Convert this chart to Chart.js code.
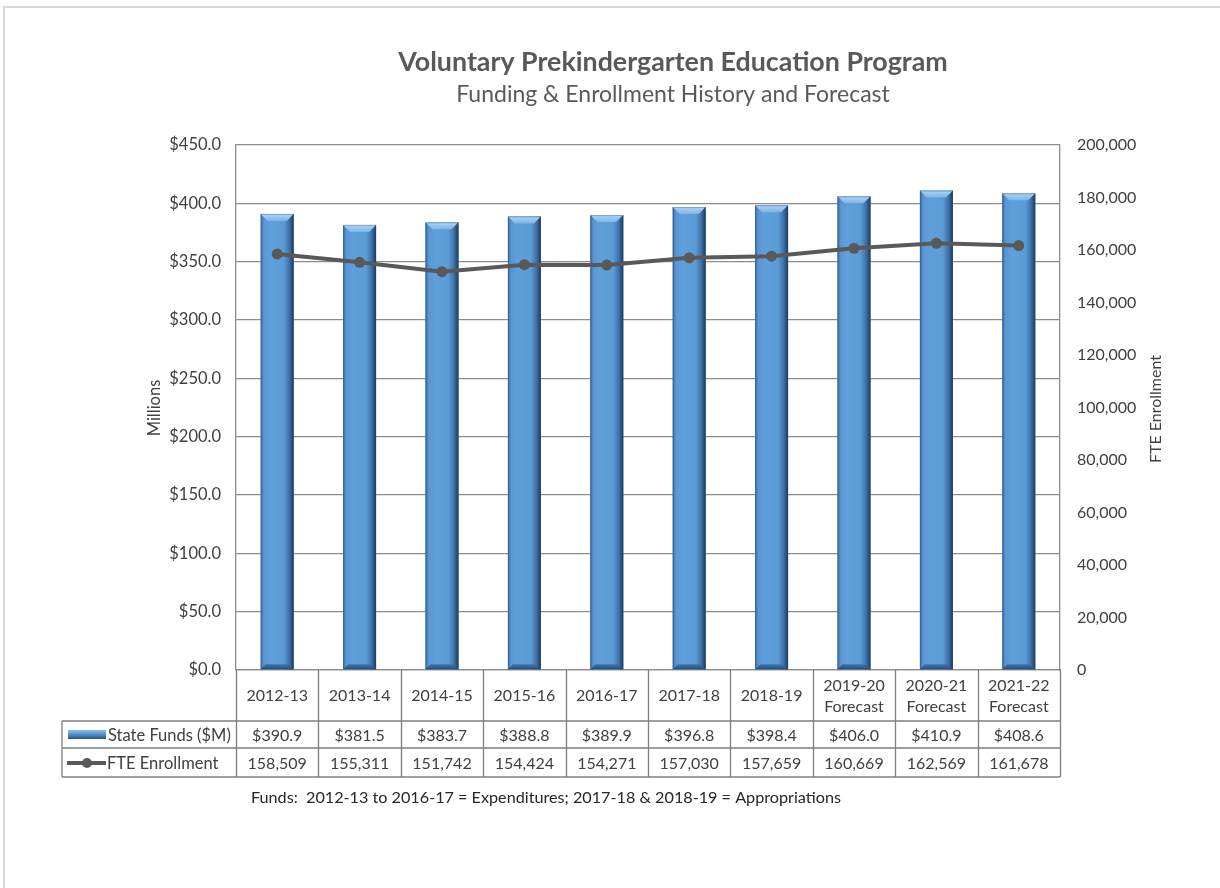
<!DOCTYPE html>
<html><head><meta charset="utf-8">
<script src="https://cdn.jsdelivr.net/npm/chart.js@4.4.1/dist/chart.umd.min.js"></script>
<style>html,body{margin:0;padding:0;background:#fff;overflow:hidden}#wrap{position:absolute;left:0;top:0;width:1220px;height:888px}</style>
</head><body><div id="wrap"><canvas id="c" width="1220" height="888"></canvas></div>
<script>
const chartTitle = 'Voluntary Prekindergarten Education Program';
const chartSubtitle = 'Funding & Enrollment History and Forecast';
const categories = ['2012-13','2013-14','2014-15','2015-16','2016-17','2017-18','2018-19',['2019-20','Forecast'],['2020-21','Forecast'],['2021-22','Forecast']];
const stateFunds = [390.9, 381.5, 383.7, 388.8, 389.9, 396.8, 398.4, 406.0, 410.9, 408.6];
const fteEnrollment = [158509, 155311, 151742, 154424, 154271, 157030, 157659, 160669, 162569, 161678];
const seriesNames = ['State Funds ($M)', 'FTE Enrollment'];
const leftAxisTitle = 'Millions';
const rightAxisTitle = 'FTE Enrollment';
const footnote = 'Funds:  2012-13 to 2016-17 = Expenditures; 2017-18 & 2018-19 = Appropriations';

const FONT = 'Lato, "Open Sans", sans-serif';
const GRID = '#8c8c8c';
const TXT = '#404040';

function fmtFunds(v){ return '$' + Number(v).toFixed(1); }
function fmtCount(v){ return Number(v).toLocaleString('en-US'); }

function drawBevelBar(ctx, l, top, w, h){
  const r = l + w;
  const g = ctx.createLinearGradient(l, 0, r, 0);
  g.addColorStop(0, '#3b6ea8');
  g.addColorStop(0.1, '#5a96d2');
  g.addColorStop(0.3, '#5fa0dc');
  g.addColorStop(0.7, '#5b9bd5');
  g.addColorStop(0.86, '#3f72aa');
  g.addColorStop(1, '#1d3b5e');
  ctx.fillStyle = g;
  ctx.fillRect(l, top, w, h);
  const b = Math.min(7, h/2);
  const gt = ctx.createLinearGradient(0, top, 0, top + b);
  gt.addColorStop(0, '#b0d4f5');
  gt.addColorStop(1, '#7db4e6');
  ctx.fillStyle = gt;
  ctx.beginPath();
  ctx.moveTo(l, top); ctx.lineTo(r, top); ctx.lineTo(r - b, top + b); ctx.lineTo(l + b, top + b); ctx.closePath();
  ctx.fill();
  const bb = Math.min(5, h/2);
  const gb = ctx.createLinearGradient(0, top + h - bb, 0, top + h);
  gb.addColorStop(0, '#3f72aa');
  gb.addColorStop(1, '#2a4f7a');
  ctx.fillStyle = gb;
  ctx.beginPath();
  ctx.moveTo(l + bb, top + h - bb); ctx.lineTo(r - bb, top + h - bb); ctx.lineTo(r, top + h); ctx.lineTo(l, top + h); ctx.closePath();
  ctx.fill();
  ctx.strokeStyle = 'rgba(40,70,110,0.35)';
  ctx.lineWidth = 1;
  ctx.strokeRect(l + 0.5, top + 0.5, w - 1, h - 1);
}

const decorPlugin = {
  id: 'decor',
  beforeDraw(chart){
    const ctx = chart.ctx;
    ctx.save();
    ctx.fillStyle = '#fff';
    ctx.fillRect(0, 0, chart.width, chart.height);
    ctx.strokeStyle = '#d9d9d9';
    ctx.lineWidth = 2;
    ctx.beginPath();
    ctx.moveTo(4, 888); ctx.lineTo(4, 7); ctx.lineTo(1220, 7);
    ctx.stroke();
    ctx.restore();
  },
  afterDatasetDraw(chart, args){
    if (args.index !== 0) return;
    const ctx = chart.ctx;
    ctx.save();
    args.meta.data.forEach(bar => {
      const p = bar.getProps(['x', 'y', 'base', 'width'], true);
      drawBevelBar(ctx, p.x - p.width/2, p.y, p.width, p.base - p.y);
    });
    ctx.restore();
  },
  afterDraw(chart){
    const ctx = chart.ctx;
    const ca = chart.chartArea;
    const xs = chart.scales.x;
    ctx.save();
    ctx.fillStyle = '#595959';
    ctx.textAlign = 'center';
    ctx.textBaseline = 'middle';
    ctx.font = 'bold 26.8px ' + FONT;
    ctx.fillText(chartTitle, 673, 62);
    ctx.font = '23px ' + FONT;
    ctx.fillText(chartSubtitle, 673, 95);
    ctx.fillStyle = TXT;
    ctx.font = '16.5px ' + FONT;
    ctx.save(); ctx.translate(155, 408); ctx.rotate(-Math.PI/2); ctx.fillText(leftAxisTitle, 0, 0); ctx.restore();
    ctx.font = '16px ' + FONT;
    ctx.save(); ctx.translate(1156, 409); ctx.rotate(-Math.PI/2); ctx.fillText(rightAxisTitle, 0, 0); ctx.restore();

    const n = categories.length;
    const step = xs.getPixelForValue(1) - xs.getPixelForValue(0);
    const y0 = ca.bottom, y1 = 721, y2 = 748, y3 = 777;
    const tl = 62;
    ctx.strokeStyle = '#7f7f7f';
    ctx.lineWidth = 1.3;
    ctx.beginPath();
    [y1, y2, y3].forEach(y => { ctx.moveTo(tl, y); ctx.lineTo(ca.right, y); });
    ctx.moveTo(tl, y1); ctx.lineTo(tl, y3);
    for (let i = 0; i <= n; i++){
      const bx = i < n ? xs.getPixelForValue(i) - step/2 : xs.getPixelForValue(n - 1) + step/2;
      ctx.moveTo(Math.round(bx) + 0.5, y0); ctx.lineTo(Math.round(bx) + 0.5, y3);
    }
    ctx.stroke();

    ctx.fillStyle = TXT;
    ctx.font = '16px ' + FONT;
    ctx.textAlign = 'center';
    ctx.textBaseline = 'middle';
    for (let i = 0; i < n; i++){
      const cx = xs.getPixelForValue(i);
      const lab = categories[i];
      if (Array.isArray(lab)){
        ctx.fillText(lab[0], cx, 686);
        ctx.fillText(lab[1], cx, 707);
      } else {
        ctx.fillText(lab, cx, 696);
      }
      ctx.fillText(fmtFunds(stateFunds[i]), cx, (y1 + y2)/2 + 1);
      ctx.fillText(fmtCount(fteEnrollment[i]), cx, (y2 + y3)/2 + 1);
    }
    ctx.textAlign = 'left';
    ctx.font = '16.5px ' + FONT;
    ctx.fillText(seriesNames[0], 108, (y1 + y2)/2 + 1);
    ctx.fillText(seriesNames[1], 107, (y2 + y3)/2 + 1);
    const gk = ctx.createLinearGradient(0, 730, 0, 739);
    gk.addColorStop(0, '#8fc0ec'); gk.addColorStop(0.4, '#5b9bd5'); gk.addColorStop(1, '#2c527f');
    ctx.fillStyle = gk;
    ctx.fillRect(68, 730, 38, 9);
    ctx.strokeStyle = '#595959';
    ctx.lineWidth = 4;
    ctx.beginPath(); ctx.moveTo(67, 763); ctx.lineTo(106, 763); ctx.stroke();
    ctx.fillStyle = '#595959';
    ctx.beginPath(); ctx.arc(87, 763, 5, 0, Math.PI*2); ctx.fill();

    ctx.fillStyle = '#262626';
    ctx.font = '16.2px ' + FONT;
    ctx.fillText(footnote, 251, 798);
    ctx.restore();
  }
};

new Chart(document.getElementById('c'), {
  data: {
    labels: categories,
    datasets: [
      { type: 'bar', label: seriesNames[0], data: stateFunds, yAxisID: 'y', backgroundColor: '#5b9bd5', borderWidth: 0, barPercentage: 0.4, categoryPercentage: 1, order: 2 },
      { type: 'line', label: seriesNames[1], data: fteEnrollment, yAxisID: 'y2', borderColor: '#595959', backgroundColor: '#595959', borderWidth: 4, pointRadius: 5.5, pointBackgroundColor: '#595959', pointBorderWidth: 0, tension: 0, order: 1 }
    ]
  },
  options: {
    responsive: false,
    animation: false,
    devicePixelRatio: 1,
    layout: { padding: { top: 145, bottom: 218, left: 0, right: 0 } },
    plugins: { legend: { display: false }, title: { display: false }, tooltip: { enabled: false } },
    scales: {
      x: {
        ticks: { display: false },
        grid: { display: false, drawTicks: false },
        border: { display: true, color: GRID, width: 1.3 },
        afterFit(s){ s.height = 0; }
      },
      y: {
        position: 'left', min: 0, max: 450,
        ticks: { stepSize: 50, padding: 15, color: TXT, font: { family: FONT, size: 16.5 }, callback: v => fmtFunds(v) },
        grid: { color: GRID, lineWidth: 1.3, drawTicks: false },
        border: { display: true, color: GRID, width: 1.3 },
        afterFit(s){ s.width = 236; }
      },
      y2: {
        position: 'right', min: 0, max: 200000,
        ticks: { stepSize: 20000, padding: 17, color: TXT, font: { family: FONT, size: 16 }, callback: v => fmtCount(v) },
        grid: { drawOnChartArea: false, drawTicks: false },
        border: { display: true, color: GRID, width: 1.3 },
        afterFit(s){ s.width = 160; }
      }
    }
  },
  plugins: [decorPlugin]
});
</script>
</body></html>
